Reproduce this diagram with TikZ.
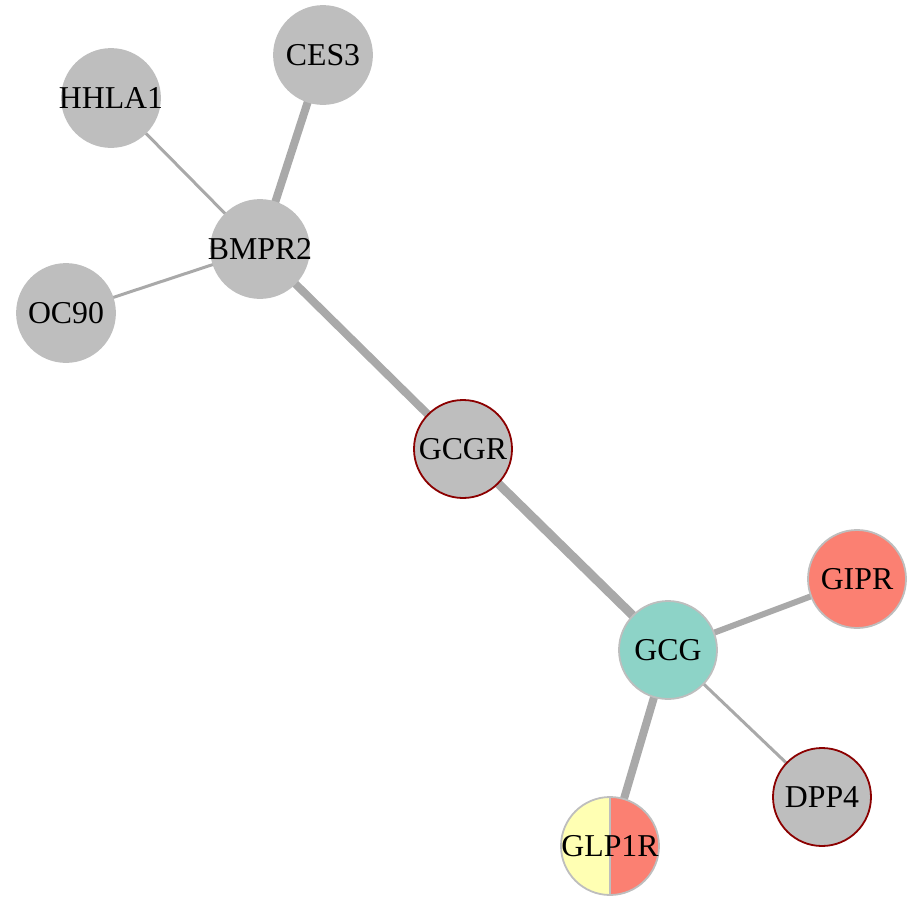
\documentclass[tikz,border=0pt]{standalone}
\usepackage{fontspec}
\setmainfont{Liberation Serif}
\usetikzlibrary{backgrounds}
\definecolor{nodegray}{HTML}{BEBEBE}
\definecolor{edgegray}{HTML}{A9A9A9}
\definecolor{darkred}{HTML}{8B0000}
\definecolor{teal}{HTML}{8DD3C7}
\definecolor{salmon}{HTML}{FB8072}
\definecolor{paleyellow}{HTML}{FFFFB3}
% gene labels may run past the circle without enlarging it
\newcommand{\genelabel}[1]{\makebox[0pt]{#1}}
\tikzset{
  gene/.style={circle, minimum size=98pt, inner sep=0pt, fill=nodegray,
    draw=nodegray, line width=1.8pt, font=\fontsize{31.8}{33}\selectfont},
  marked/.style={draw=darkred},
  link/.style={draw=edgegray, line cap=butt},
}
\begin{document}
\begin{tikzpicture}[x=1pt, y=-1pt]
\useasboundingbox (0,0) rectangle (916,897);
% genes
\node[gene] (CES3) at (323,55) {\genelabel{CES3}};
\node[gene] (HHLA1) at (111,98) {\genelabel{HHLA1}};
\node[gene] (BMPR2) at (260,249) {\genelabel{BMPR2}};
\node[gene] (OC90) at (66,313) {\genelabel{OC90}};
\node[gene, marked] (GCGR) at (463,449) {\genelabel{GCGR}};
\node[gene, fill=salmon] (GIPR) at (857,579) {\genelabel{GIPR}};
\node[gene, fill=teal] (GCG) at (668,650) {\genelabel{GCG}};
\node[gene, marked] (DPP4) at (822,797) {\genelabel{DPP4}};
\node[gene, fill=none, path picture={
    \fill[paleyellow] (path picture bounding box.south west) rectangle (path picture bounding box.north);
    \fill[salmon] (path picture bounding box.south) rectangle (path picture bounding box.north east);
    \draw[nodegray, line width=1.8pt] (path picture bounding box.south) -- (path picture bounding box.north);
  }] (GLP1R) at (610,846) {\genelabel{GLP1R}};
% interactions, behind the genes
\begin{scope}[on background layer]
\draw[link, line width=8pt] (CES3.center) -- (BMPR2.center);
\draw[link, line width=3pt] (HHLA1.center) -- (BMPR2.center);
\draw[link, line width=3pt] (OC90.center) -- (BMPR2.center);
\draw[link, line width=8pt] (BMPR2.center) -- (GCGR.center);
\draw[link, line width=9pt] (GCGR.center) -- (GCG.center);
\draw[link, line width=6pt] (GIPR.center) -- (GCG.center);
\draw[link, line width=3pt] (DPP4.center) -- (GCG.center);
\draw[link, line width=8pt] (GLP1R.center) -- (GCG.center);
\end{scope}
\end{tikzpicture}
\end{document}
